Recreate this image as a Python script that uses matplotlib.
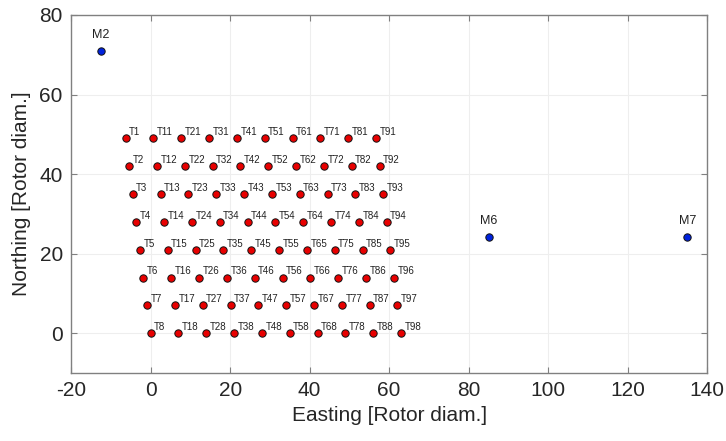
import matplotlib.pyplot as plt

plt.rcParams['font.family'] = ['Liberation Sans', 'DejaVu Sans']
plt.rcParams['axes.unicode_minus'] = False

# turbine layout: 10 columns (T1.., T11.., ... T91..) x 8 rows
col_numbers = [0, 10, 20, 30, 40, 50, 60, 70, 80, 90]
bottom_row_easting = [0, 7, 14, 21, 28, 35, 42, 49, 56, 63]
row_northing = [49, 42, 35, 28, 21, 14, 7, 0]
row_shift = [-6.3, -5.4, -4.5, -3.6, -2.7, -1.8, -0.9, 0]

# met masts
mast_names = ['M2', 'M6', 'M7']
mast_easting = [-12.5, 85, 135]
mast_northing = [71, 24.2, 24.2]

tx, ty, tlab = [], [], []
for c, num in enumerate(col_numbers):
    for r in range(8):
        tx.append(bottom_row_easting[c] + row_shift[r])
        ty.append(row_northing[r])
        tlab.append(f'T{num + r + 1}')

fig = plt.figure(figsize=(7.26, 4.41), dpi=100)
ax = fig.add_axes([0.098, 0.154, 0.876, 0.812])

ax.plot(tx, ty, 'o', ms=5.3, mfc='#e80000', mec='#111111', mew=0.7, zorder=3)
for x, y, s in zip(tx, ty, tlab):
    ax.annotate(s, (x, y), xytext=(2.5, 2.3), textcoords='offset points',
                fontsize=7, color='#222222', zorder=4)

ax.plot(mast_easting, mast_northing, 'o', ms=5.3, mfc='#0022dd', mec='#111111', mew=0.7, zorder=3)
for x, y, s in zip(mast_easting, mast_northing, mast_names):
    ax.annotate(s, (x, y), xytext=(0, 7), textcoords='offset points',
                fontsize=9, color='#222222', ha='center', va='bottom', zorder=4)

ax.set_xlim(-20, 140)
ax.set_ylim(-10, 80)
ax.set_xticks(range(-20, 141, 20))
ax.set_yticks(range(0, 81, 20))
ax.grid(True, color='#eeeeee', lw=0.8)
ax.set_axisbelow(True)
ax.tick_params(direction='in', length=4.5, width=0.8, top=True, right=True,
               labelsize=15, colors='#808080', labelcolor='#262626', pad=6)
for sp in ax.spines.values():
    sp.set_color('#808080')
    sp.set_linewidth(1.0)

ax.set_xlabel('Easting [Rotor diam.]', fontsize=15, color='#262626', labelpad=4)
ax.set_ylabel('Northing [Rotor diam.]', fontsize=15, color='#262626', labelpad=6)

fig.savefig('out.png', dpi=100)
